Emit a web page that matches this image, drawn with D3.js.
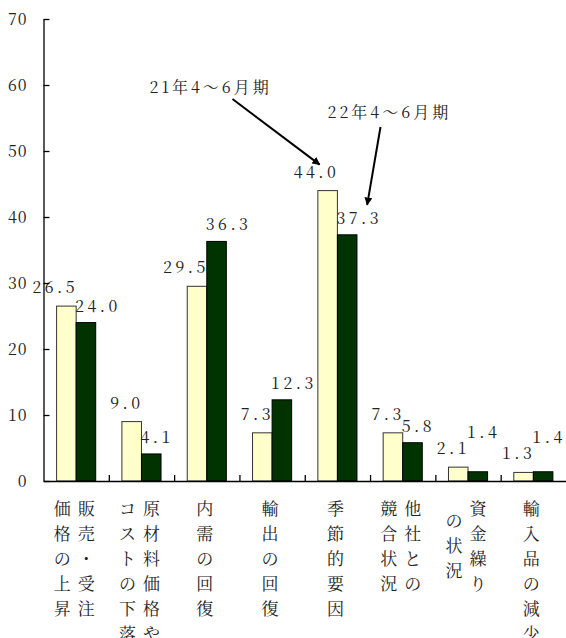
<!DOCTYPE html>
<html>
<head>
<meta charset="utf-8">
<script src="https://cdn.jsdelivr.net/npm/d3@7"></script>
<style>
    body { margin: 0; background: #fff; }
    svg { display: block; }
</style>
</head>
<body>
<script>
// Categories: each one is a list of columns, read right to left
var categoryColumns = [
    ["販売・受注", "価格の上昇"],
    ["原材料価格や", "コストの下落"],
    ["内需の回復"],
    ["輸出の回復"],
    ["季節的要因"],
    ["他社との", "競合状況"],
    ["資金繰り", "の状況"],
    ["輸入品の減少"]
];
var seriesNames = ["21年4～6月期", "22年4～6月期"];
var values21 = [26.5, 9.0, 29.5, 7.3, 44.0, 7.3, 2.1, 1.3];
var values22 = [24.0, 4.1, 36.3, 12.3, 37.3, 5.8, 1.4, 1.4];
var yTicks = [0, 10, 20, 30, 40, 50, 60, 70];

var seriesValues = [values21, values22];
var seriesColors = ["#ffffcc", "#003300"];
var font = "'Noto Serif CJK JP', 'Liberation Serif', serif";

// Set the dimensions of the canvas
var margin = { top: 19, right: 0, bottom: 157, left: 43.5 },
    width = 566 - margin.left - margin.right,
    height = 638 - margin.top - margin.bottom;

var svg = d3.select("body").append("svg")
    .attr("width", 566)
    .attr("height", 638)
    .append("g")
    .attr("transform", "translate(" + margin.left + "," + margin.top + ")");

// Scales
var x0 = d3.scaleBand()
    .domain(d3.range(categoryColumns.length))
    .range([0, width])
    .padding(0);

var x1 = d3.scaleBand()
    .domain(d3.range(seriesNames.length))
    .range([0, x0.bandwidth()])
    .paddingInner(0)
    .paddingOuter(0.67);

var y = d3.scaleLinear()
    .domain([0, 70])
    .range([height, 0]);

// Bars
var groups = svg.selectAll(".group")
    .data(categoryColumns)
    .enter().append("g")
    .attr("class", "group")
    .attr("transform", function (d, i) { return "translate(" + x0(i) + ",0)"; });

groups.selectAll("rect")
    .data(function (d, i) {
        return seriesValues.map(function (vals, s) { return { s: s, v: vals[i] }; });
    })
    .enter().append("rect")
    .attr("x", function (d) { return x1(d.s); })
    .attr("width", x1.bandwidth())
    .attr("y", function (d) { return y(d.v); })
    .attr("height", function (d) { return height - y(d.v); })
    .attr("fill", function (d) { return seriesColors[d.s]; })
    .attr("stroke", function (d) { return d.s === 0 ? "#333" : "#000"; })
    .attr("stroke-width", 1);

// Value labels: first series ends at the bar boundary, second starts there
var fmt = d3.format(".1f");
groups.each(function (d, i) {
    var g = d3.select(this);
    var mid = x1(1);
    var y0 = y(values21[i]) - 13;
    var y1 = y(values22[i]) - 11;
    if (Math.abs(y0 - y1) < 10) y1 = y0 - 16; // lift when the labels collide
    g.append("text")
        .attr("class", "val")
        .attr("x", mid + 2)
        .attr("y", y0)
        .attr("text-anchor", "end")
        .text(fmt(values21[i]));
    g.append("text")
        .attr("class", "val")
        .attr("x", mid - 1)
        .attr("y", y1)
        .attr("text-anchor", "start")
        .text(fmt(values22[i]));
});
groups.selectAll("text.val")
    .style("font-family", font)
    .style("font-size", "16px")
    .style("letter-spacing", "3.5px")
    .style("fill", "#222");

// Y axis
var yAxis = svg.append("g")
    .call(d3.axisLeft(y).tickValues(yTicks).tickSizeInner(-6).tickSizeOuter(0).tickPadding(16));
yAxis.selectAll("text")
    .style("font-family", font)
    .style("font-size", "16px")
    .style("letter-spacing", "1px")
    .style("fill", "#222");

// X axis with tick marks between the categories
var xb = d3.scaleLinear().domain([0, categoryColumns.length]).range([0, width]);
svg.append("g")
    .attr("transform", "translate(0," + height + ")")
    .call(d3.axisBottom(xb).tickValues(d3.range(1, categoryColumns.length))
        .tickSizeInner(-6).tickSizeOuter(0).tickFormat(""));
svg.selectAll(".domain, .tick line").attr("stroke", "#000").attr("stroke-width", 1.3);

// Category labels, vertical columns
var rowStep = 25, colStep = 24;
groups.each(function (cols, i) {
    var g = d3.select(this);
    var cx = x0.bandwidth() / 2 - 2;
    var maxLen = d3.max(cols, function (c) { return c.length; });
    cols.forEach(function (col, j) {
        var colX = cx + ((cols.length - 1) / 2 - j) * colStep;
        var off = (maxLen - col.length) / 2 * rowStep;
        Array.from(col).forEach(function (ch, k) {
            g.append("text")
                .attr("x", colX)
                .attr("y", height + 26 + off + k * rowStep)
                .attr("text-anchor", "middle")
                .attr("dominant-baseline", "central")
                .style("font-family", font)
                .style("font-size", "17px")
                .style("fill", "#222")
                .text(ch);
        });
    });
});

// Series annotations with arrows pointing at the 季節的要因 bars
svg.append("defs").append("marker")
    .attr("id", "arrow")
    .attr("viewBox", "0 0 10 10")
    .attr("refX", 9)
    .attr("refY", 5)
    .attr("markerWidth", 4)
    .attr("markerHeight", 4)
    .attr("orient", "auto")
    .append("path")
    .attr("d", "M0,0L10,5L0,10z")
    .attr("fill", "#000");

var target = 4;
var annotations = [
    { s: 0, tx: 106, ty: 74, sx: 189, sy: 80, ex: -8, ey: -26 },
    { s: 1, tx: 284, ty: 99, sx: 337, sy: 108, ex: 20, ey: -30 }
];
annotations.forEach(function (a) {
    var bx = x0(target) + x1(a.s) + x1.bandwidth() / 2;
    var by = y(seriesValues[a.s][target]);
    svg.append("text")
        .attr("x", a.tx)
        .attr("y", a.ty)
        .style("font-family", font)
        .style("font-size", "16px")
        .style("letter-spacing", "3px")
        .style("fill", "#222")
        .text(seriesNames[a.s]);
    svg.append("line")
        .attr("x1", a.sx)
        .attr("y1", a.sy)
        .attr("x2", bx + a.ex)
        .attr("y2", by + a.ey)
        .attr("stroke", "#000")
        .attr("stroke-width", 2)
        .attr("marker-end", "url(#arrow)");
});
</script>
</body>
</html>
